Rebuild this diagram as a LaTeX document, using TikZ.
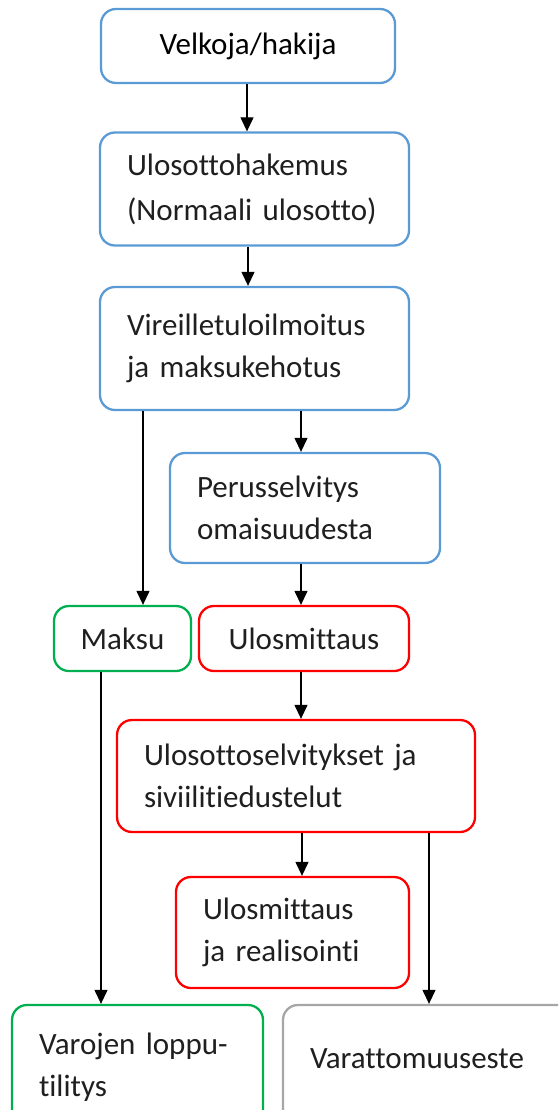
\documentclass[tikz,border=0pt]{standalone}
\usepackage{fontspec}
\setmainfont{Carlito}[Ligatures=NoCommon]
\usetikzlibrary{arrows.meta}
\definecolor{bblue}{HTML}{5B9BD5}
\definecolor{bred}{HTML}{FF0000}
\definecolor{bgreen}{HTML}{00B050}
\definecolor{bgray}{HTML}{A6A6A6}
\newcommand\bxfont[1]{\fontsize{31}{#1}\selectfont\spaceskip=0.2em plus 0.05em minus 0.02em\relax}
\begin{document}
\begin{tikzpicture}[x=1pt,y=-1pt,
  box/.style={draw, line width=2.3pt, rounded corners=15pt, inner ysep=0pt, inner xsep=27pt,
    font=\bxfont{42}, text=black!88},
  conn/.style={line width=1.2pt, -{Triangle[width=13pt,length=14pt]}}]
\useasboundingbox (0,0) rectangle (558,1110);
\clip (0,0) rectangle (558,1110);
% boxes
\node[box, draw=bblue, minimum width=294pt, minimum height=74pt, inner xsep=0pt, text=black] (B1) at (248,46) {Velkoja/hakija};
\node[box, draw=bblue, minimum width=309pt, minimum height=113pt, text width=255pt, align=left, font=\bxfont{45}] (B2) at (254.5,189) {Ulosottohakemus\\(Normaali ulosotto)};
\node[box, draw=bblue, minimum width=309pt, minimum height=123pt, text width=255pt, align=left] (B3) at (254.5,348.5) {Vireilletuloilmoitus\\ja maksukehotus};
\node[box, draw=bblue, minimum width=270pt, minimum height=110pt, text width=216pt, align=left] (B4) at (305,508) {Perusselvitys\\omaisuudesta};
\node[box, draw=bgreen, minimum width=137pt, minimum height=65pt, inner xsep=0pt] (B5) at (122.5,638.5) {Maksu};
\node[box, draw=bred, minimum width=210pt, minimum height=65pt, inner xsep=0pt] (B6) at (304,638.5) {Ulosmittaus};
\node[box, draw=bred, minimum width=358pt, minimum height=112pt, text width=304pt, align=left] (B7) at (296,776) {Ulosottoselvitykset ja\\siviilitiedustelut};
\node[box, draw=bred, minimum width=233pt, minimum height=111pt, text width=179pt, align=left] (B8) at (292.5,932.5) {Ulosmittaus\\ja realisointi};
\node[box, draw=bgreen, minimum width=251pt, minimum height=125pt, text width=197pt, align=left] (B9) at (137.5,1067.5) {\raisebox{4pt}{Varojen loppu-}\\\raisebox{4pt}{tilitys}};
\node[box, draw=bgray, minimum width=297pt, minimum height=125pt, text width=243pt, align=left] (B10) at (431.5,1067.5) {\raisebox{17pt}{Varattomuuseste}};
% connectors
\draw[conn] ([xshift=-1pt]B1.south) -- ([xshift=-1pt]B1.south |- B2.north);
\draw[conn] (B2.south -| B1.south) -- (B3.north -| B1.south);
\draw[conn] ([xshift=-4pt]B4.north |- B3.south) -- ([xshift=-4pt]B4.north);
\draw[conn] ([xshift=20.5pt]B5.north |- B3.south) -- ([xshift=20.5pt]B5.north);
\draw[conn] ([xshift=-3pt]B6.north |- B4.south) -- ([xshift=-3pt]B6.north);
\draw[conn] ([xshift=-3pt]B6.south) -- ([xshift=-3pt]B6.south |- B7.north);
\draw[conn] ([xshift=9.5pt]B8.north |- B7.south) -- ([xshift=9.5pt]B8.north);
\draw[conn] ([xshift=-36.5pt]B9.north |- B5.south) -- ([xshift=-36.5pt]B9.north);
\draw[conn] ([xshift=-2.5pt]B10.north |- B7.south) -- ([xshift=-2.5pt]B10.north);
\end{tikzpicture}
\end{document}
